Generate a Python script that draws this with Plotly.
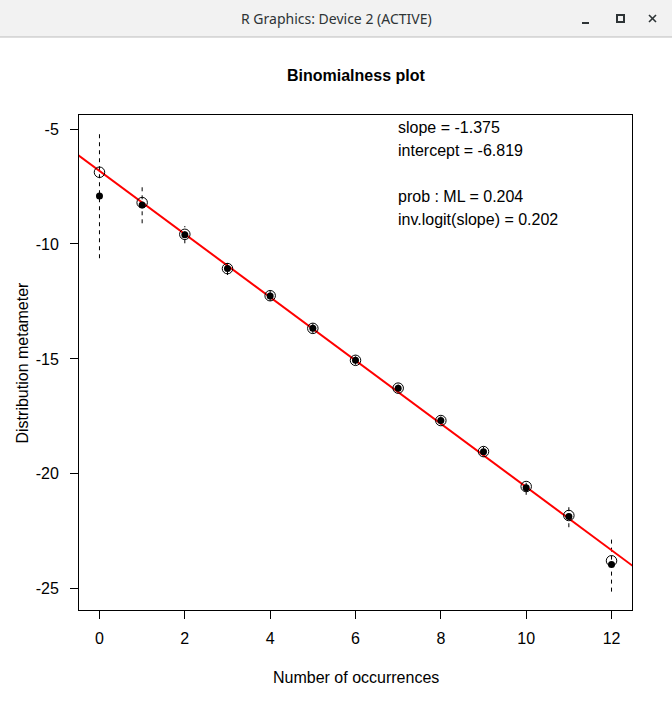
import plotly.graph_objects as go

# Binomialness plot (vcd::distplot style)
counts = list(range(13))
metameter = [-6.88, -8.20, -9.58, -11.07, -12.25, -13.67, -15.06, -16.27, -17.68, -19.03, -20.55, -21.81, -23.78]
centered = [-7.91, -8.30, -9.60, -11.07, -12.26, -13.67, -15.06, -16.27, -17.68, -19.04, -20.60, -21.85, -23.94]
ci_lower = [-10.62, -9.10, -9.97, -11.35, -12.48, -13.88, -15.25, -16.46, -17.86, -19.25, -20.91, -22.32, -25.12]
ci_upper = [-5.19, -7.53, -9.22, -10.80, -12.02, -13.45, -14.86, -16.08, -17.48, -18.82, -20.33, -21.41, -22.84]
slope = -1.375
intercept = -6.819
x_ticks = [0, 2, 4, 6, 8, 10, 12]
y_ticks = [-5, -10, -15, -20, -25]
y_ticklabels = ["-5", "-10", "-15", "-20", "-25"]
info_lines = ["slope = -1.375", "intercept = -6.819", "", "prob : ML = 0.204", "inv.logit(slope) = 0.202"]

W, H = 672, 708
L, R, T, B = 79, 40, 115, 98
pw, ph = W - L - R, H - T - B

def px(p):  # pixel x -> paper
    return (p - L) / pw

def py(p):  # pixel y (from top) -> paper
    return (H - B - p) / ph

FONT = "Liberation Sans, Arial, sans-serif"

fig = go.Figure()

# confidence intervals (dashed)
ci_x, ci_y = [], []
for c, lo, hi in zip(counts, ci_lower, ci_upper):
    ci_x += [c, c, None]
    ci_y += [lo, hi, None]
fig.add_trace(go.Scatter(x=ci_x, y=ci_y, mode="lines",
                         line=dict(color="black", width=1, dash="4px,4px"), hoverinfo="skip"))

# fitted line
xs = [-1, 13]
fig.add_trace(go.Scatter(x=xs, y=[intercept + slope * v for v in xs], mode="lines",
                         line=dict(color="red", width=2)))

fig.add_trace(go.Scatter(x=counts, y=metameter, mode="markers",
                         marker=dict(symbol="circle-open", size=10.5, color="black", line=dict(width=1))))
fig.add_trace(go.Scatter(x=counts, y=centered, mode="markers",
                         marker=dict(symbol="circle", size=7, color="black")))

fig.update_xaxes(range=[-0.48, 12.48], tickvals=x_ticks,
                 ticks="outside", ticklen=8, tickcolor="black", tickwidth=1,
                 showline=True, mirror=True, linecolor="black", linewidth=1,
                 showgrid=False, zeroline=False, ticklabelstandoff=6,
                 tickfont=dict(family=FONT, size=16, color="black"))
fig.update_yaxes(range=[-25.92, -4.39], tickvals=y_ticks, ticktext=y_ticklabels,
                 ticks="outside", ticklen=8, tickcolor="black", tickwidth=1,
                 showline=True, mirror=True, linecolor="black", linewidth=1,
                 showgrid=False, zeroline=False, ticklabelstandoff=8,
                 tickfont=dict(family=FONT, size=16, color="black"))

ann = []
ann.append(dict(text="<b>Binomialness plot</b>", x=0.5, y=py(76), xref="paper", yref="paper",
                yanchor="middle", showarrow=False, font=dict(family=FONT, size=16, color="black")))
ann.append(dict(text="Number of occurrences", x=0.5, y=py(677), xref="paper", yref="paper",
                yanchor="middle", showarrow=False, font=dict(family=FONT, size=16, color="black")))
ann.append(dict(text="Distribution metameter", x=px(22), y=0.5, xref="paper", yref="paper",
                xanchor="center", yanchor="middle", textangle=-90, showarrow=False,
                font=dict(family=FONT, size=16, color="black")))
for i, t in enumerate(info_lines):
    if t:
        ann.append(dict(text=t, x=px(396), y=py(128 + 22.8 * i), xref="paper", yref="paper",
                        xanchor="left", yanchor="middle", showarrow=False,
                        font=dict(family=FONT, size=16, color="black")))

# window title bar
bar = "#2e3436"
shapes = [
    dict(type="rect", xref="paper", yref="paper", x0=px(0), x1=px(W), y0=py(37), y1=py(0),
         fillcolor="#f2f2f2", line=dict(width=0), layer="above"),
    dict(type="line", xref="paper", yref="paper", x0=px(0), x1=px(W), y0=py(37), y1=py(37),
         line=dict(color="#bdbdbd", width=1)),
    dict(type="line", xref="paper", yref="paper", x0=px(582), x1=px(589), y0=py(23), y1=py(23),
         line=dict(color=bar, width=2)),
    dict(type="rect", xref="paper", yref="paper", x0=px(617), x1=px(624), y0=py(22), y1=py(15),
         line=dict(color=bar, width=2)),
    dict(type="line", xref="paper", yref="paper", x0=px(649), x1=px(656), y0=py(15), y1=py(22),
         line=dict(color=bar, width=1.6)),
    dict(type="line", xref="paper", yref="paper", x0=px(649), x1=px(656), y0=py(22), y1=py(15),
         line=dict(color=bar, width=1.6)),
]
ann.append(dict(text="R Graphics: Device 2 (ACTIVE)", x=px(336), y=py(18), xref="paper", yref="paper",
                yanchor="middle", showarrow=False,
                font=dict(family="Noto Sans, sans-serif", size=14, color=bar)))

fig.update_layout(width=W, height=H, margin=dict(l=L, r=R, t=T, b=B),
                  paper_bgcolor="white", plot_bgcolor="white", showlegend=False,
                  annotations=ann, shapes=shapes)

fig.write_html("out.html", config={"displayModeBar": False},
               post_script="document.body.style.margin='0';")
